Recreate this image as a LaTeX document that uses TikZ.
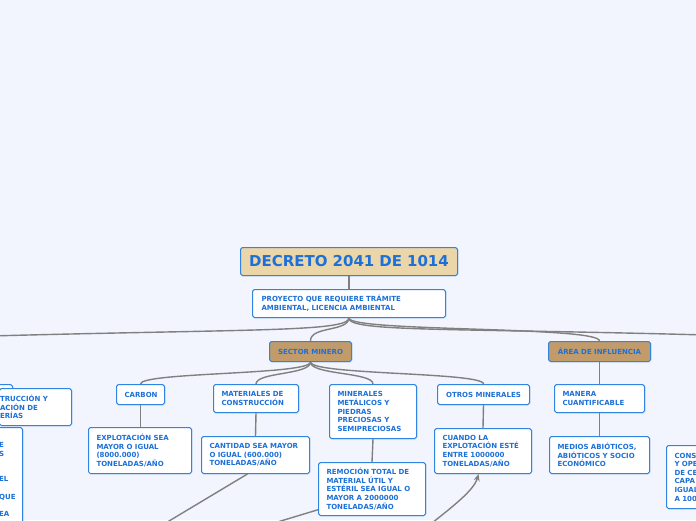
\documentclass[tikz,border=0pt]{standalone}
\usepackage{fontspec}
\setmainfont{DejaVu Sans}
\usetikzlibrary{arrows.meta,shadows}
\definecolor{bgc}{RGB}{242,245,254}
\definecolor{bordc}{RGB}{48,132,226}
\definecolor{txtc}{RGB}{28,112,216}
\definecolor{tanA}{RGB}{234,214,168}
\definecolor{tanB}{RGB}{193,155,106}
\definecolor{linec}{RGB}{128,128,128}
\tikzset{
  box/.style={draw=bordc, line width=1pt, fill=white, rounded corners=1.8pt,
    text=txtc, font=\fontsize{7}{8.6}\selectfont\bfseries, align=left,
    inner xsep=8pt, inner ysep=0pt, anchor=north west,
    drop shadow={shadow xshift=0.8pt, shadow yshift=-0.8pt, opacity=0.25, fill=bordc}},
  cbox/.style={box, align=center},
  topic/.style={cbox, fill=tanB},
  conn/.style={draw=linec, line width=1.4pt},
  relc/.style={draw=linec, line width=1.4pt, -{Stealth[length=7pt,width=6pt]}},
}
\begin{document}
\begin{tikzpicture}[x=1pt,y=-1pt]
\useasboundingbox (0,0) rectangle (696,520);
\fill[bgc] (0,0) rectangle (696,520);
\clip (0,0) rectangle (696,520);

% off-screen ends
\coordinate (offL) at (-10,336);
\coordinate (offR) at (706,335);
\coordinate (offB1) at (154,530);
\coordinate (offB2) at (251,530);
\coordinate (offB3) at (423,530);

% connectors (drawn first, under the boxes)
\coordinate (dummy) at (0,0);

% nodes
\node[cbox, fill=tanA, text width=201pt, minimum height=28pt, font=\fontsize{15}{18}\selectfont\bfseries] (title) at (240,247) {DECRETO 2041 DE 1014};
\node[box, text width=175pt, minimum height=28pt, inner xsep=9pt] (proy) at (252,289) {PROYECTO QUE REQUIERE TRÁMITE\\AMBIENTAL, LICENCIA AMBIENTAL};
\node[topic, text width=66pt, minimum height=20pt] (sector) at (269,341) {SECTOR MINERO};
\node[topic, text width=86pt, minimum height=20pt] (area) at (548,341) {ÁREA DE INFLUENCIA};

\node[cbox, text width=32pt, minimum height=20pt] (carbon) at (116,384) {CARBON};
\node[box, text width=69pt, minimum height=28pt] (mat) at (213,384) {MATERIALES DE\\CONSTRUCCIÓN};
\node[box, text width=71pt, minimum height=54pt] (minr) at (329,384) {MINERALES\\METÁLICOS Y\\PIEDRAS\\PRECIOSAS Y\\SEMIPRECIOSAS};
\node[cbox, text width=76pt, minimum height=20pt] (otros) at (437,384) {OTROS MINERALES};
\node[box, text width=74pt, minimum height=28pt] (manera) at (554,384) {MANERA\\CUANTIFICABLE};

\node[box, text width=87pt, minimum height=46pt] (expl) at (88,427) {EXPLOTACIÓN SEA\\MAYOR O IGUAL\\(8000.000)\\TONELADAS/AÑO};
\node[box, text width=92pt, minimum height=37pt] (cant) at (201,436) {CANTIDAD SEA MAYOR\\O IGUAL (600.000)\\TONELADAS/AÑO};
\node[box, text width=91pt, minimum height=53pt] (remo) at (318,462) {REMOCIÓN TOTAL DE\\MATERIAL ÚTIL Y\\ESTÉRIL SEA IGUAL O\\MAYOR A 2000000\\TONELADAS/AÑO};
\node[box, text width=81pt, minimum height=45pt] (cuando) at (434,428) {CUANDO LA\\EXPLOTACIÓN ESTÉ\\ENTRE 1000000\\TONELADAS/AÑO};
\node[box, text width=84pt, minimum height=37pt] (medios) at (549,436) {MEDIOS ABIÓTICOS,\\ABIÓTICOS Y SOCIO\\ECONÓMICO};
\node[box, text width=64pt, minimum height=63pt] (cons) at (666,445) {CONS\\Y OPE\\DE CE\\CAPA\\IGUAL\\A 100};

% left clipped boxes
\node[box, text width=56pt, minimum height=21pt] (leftA) at (-60,384) {};
\node[box, text width=71pt, minimum height=37pt, inner xsep=0.5pt] (leftB) at (-1,388) {TRUCCIÓN Y\\ACIÓN DE\\ERÍAS};
\node[box, text width=66pt, minimum height=110pt] (leftC) at (-60,427) {};
\node[anchor=north west, inner sep=0pt, text=txtc, align=left, font=\fontsize{7}{8.6}\selectfont\bfseries] (leftCt) at (-1,442.2) {E\\S\\~\\~\\EL\\~\\QUE\\~\\EA};

% connectors
\draw[conn] (title.south) -- (proy.north);
\draw[conn] (proy.south) .. controls (348,332) and (250,329) .. (offL);
\draw[conn] (proy.south) .. controls (348,332) and (450,328) .. (offR);
\draw[conn] (proy.south) .. controls (348,332) and (310,326) .. (sector.north);
\draw[conn] (proy.south) .. controls (348,332) and (600,326) .. (area.north);

\draw[conn] (sector.south) .. controls +(0,13) and +(0,-12) .. (carbon.north);
\draw[conn] (sector.south) .. controls +(0,13) and +(0,-12) .. (mat.north);
\draw[conn] (sector.south) .. controls +(0,13) and +(0,-12) .. (minr.north);
\draw[conn] (sector.south) .. controls +(0,13) and +(0,-12) .. (otros.north);
\draw[conn] (area.south) -- (manera.north);

\draw[conn] (carbon.south) -- (expl.north -| carbon.south);
\draw[conn] (mat.south) -- (cant.north);
\draw[conn] (minr.south) -- (remo.north);
\draw[conn] (otros.south) -- (cuando.north);
\draw[conn] (manera.south) -- (medios.north);

\draw[conn] (cant.247) -- (offB1);
\draw[conn] (remo.201) -- (offB2);
\draw[relc] (offB3) .. controls (455,505) and (474,490) .. (cuando.259);
\end{tikzpicture}
\end{document}
